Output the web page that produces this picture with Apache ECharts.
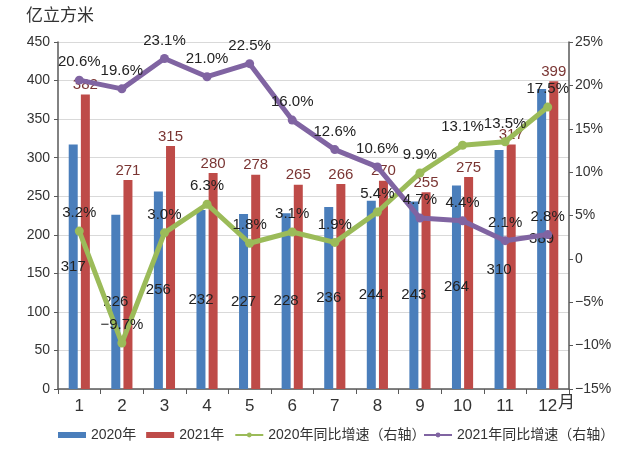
<!DOCTYPE html>
<html><head><meta charset="utf-8">
<script src="https://cdn.jsdelivr.net/npm/echarts@6/dist/echarts.min.js"></script>
<style>html,body{margin:0;padding:0;background:#fff}#c{width:628px;height:450px}</style>
</head><body><div id="c"></div>
<script>
const months = ['1','2','3','4','5','6','7','8','9','10','11','12'];
const vol2020 = [317,226,256,232,227,228,236,244,243,264,310,389];
const vol2021 = [382,271,315,280,278,265,266,270,255,275,317,399];
const growth2020 = [3.2,-9.7,3.0,6.3,1.8,3.1,1.9,5.4,9.9,13.1,13.5,17.5];
const growth2021 = [20.6,19.6,23.1,21.0,22.5,16.0,12.6,10.6,4.7,4.4,2.1,2.8];
const leftTicks = {min:0,max:450,interval:50};
const rightTicks = {min:-15,max:25,interval:5};

const FONT = '"Liberation Sans","Noto Sans CJK SC",Arial,sans-serif';
const legendText = {fontSize:14,color:'#333',fontFamily:FONT};
const chart = echarts.init(document.getElementById('c'));
chart.setOption({
  animation:false,
  textStyle:{fontFamily:FONT},
  grid:{left:58,right:59,top:42,bottom:61,containLabel:false},
  legend:[
    {top:428,left:58,padding:0,itemWidth:28,itemHeight:6,itemGap:10,textStyle:legendText,
     data:[{name:'2020年',icon:'rect'},{name:'2021年',icon:'rect'},{name:'2020年同比增速（右轴）'}]},
    {top:428,left:423,padding:0,itemWidth:28,itemHeight:6,textStyle:legendText,
     data:[{name:'2021年同比增速（右轴）'}]}
  ],
  graphic:[
    {type:'text',left:26,top:8,style:{text:'亿立方米',fontSize:17,fill:'#333',fontFamily:FONT}},
    {type:'text',left:558,top:395,style:{text:'月',fontSize:17,fill:'#333',fontFamily:FONT}}
  ],
  xAxis:{
    type:'category',data:months,
    axisLine:{lineStyle:{color:'#595959',width:1.5}},
    axisTick:{show:true,length:5,inside:false,lineStyle:{color:'#595959'}},
    axisLabel:{fontSize:17,color:'#333',margin:9}
  },
  yAxis:[
    {type:'value',min:leftTicks.min,max:leftTicks.max,interval:leftTicks.interval,
     axisLine:{show:true,lineStyle:{color:'#595959',width:1.5}},
     axisTick:{show:true,length:4,lineStyle:{color:'#595959'}},
     axisLabel:{fontSize:14,color:'#333',margin:8},
     splitLine:{lineStyle:{color:'#d9d9d9'}}},
    {type:'value',min:rightTicks.min,max:rightTicks.max,interval:rightTicks.interval,
     axisLine:{show:true,lineStyle:{color:'#595959',width:1.5}},
     axisTick:{show:true,length:4,lineStyle:{color:'#595959'}},
     axisLabel:{fontSize:14,color:'#333',margin:6,formatter:v=>(v<0?'\u2212'+(-v):v)+(v===0?'':'%')},
     splitLine:{show:false}}
  ],
  series:[
    {name:'2020年',type:'bar',data:vol2020,barWidth:9,barGap:'35%',
     itemStyle:{color:'#4a7ebb'},
     label:{show:true,position:'inside',color:'#222',fontSize:15}},
    {name:'2021年',type:'bar',data:vol2021,barWidth:9,
     itemStyle:{color:'#be4b48'},
     label:{show:true,position:'top',color:'#7a3533',fontSize:15,distance:2}},
    {name:'2020年同比增速（右轴）',type:'line',yAxisIndex:1,data:growth2020,
     lineStyle:{color:'#9bbb59',width:5},itemStyle:{color:'#9bbb59'},
     symbol:'circle',symbolSize:9,
     label:{show:true,position:'top',color:'#222',fontSize:15,distance:6,formatter:p=>(p.value<0?'\u2212'+(-p.value).toFixed(1):p.value.toFixed(1))+'%'}},
    {name:'2021年同比增速（右轴）',type:'line',yAxisIndex:1,data:growth2021,
     lineStyle:{color:'#8064a2',width:5},itemStyle:{color:'#8064a2'},
     symbol:'circle',symbolSize:9,
     label:{show:true,position:'top',color:'#222',fontSize:15,distance:6,formatter:p=>p.value.toFixed(1)+'%'}}
  ]
});
</script></body></html>
